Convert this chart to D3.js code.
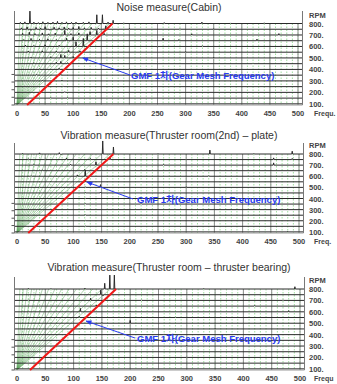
<!DOCTYPE html>
<html>
<head>
<meta charset="utf-8">
<script src="https://cdn.jsdelivr.net/npm/d3@7"></script>
<style>
  body { margin: 0; background: #fff; }
  svg { display: block; }
  text { font-family: "Liberation Sans", Arial, "Noto Sans CJK KR", sans-serif; }
</style>
</head>
<body>
<script>
// ---- data ----
const titles = [
  'Noise measure(Cabin)',
  'Vibration measure(Thruster room(2nd) \u2013 plate)',
  'Vibration measure(Thruster room \u2013 thruster bearing)',
];
const freqLabels = ['Frequ.', 'Freq.', 'Frequ'];
const gmfText = 'GMF 1차(Gear Mesh Frequency)';

const freqTicks = [0, 50, 100, 150, 200, 250, 300, 350, 400, 450, 500];
const rpmTicks = [100, 200, 300, 400, 500, 600, 700, 800];
const traceRpms = [100, 150, 200, 250, 300, 350, 400, 450, 500, 550, 600, 650, 700, 750, 800];
const leftTicks = [90, 157, 223, 290, 356];
// order-line fan: frequency where each line meets the 800 rpm trace
const fanTops = [5, 11, 18, 26, 35, 45, 56, 67, 79, 92, 105, 120, 134, 150, 165];

// GMF (red) line end points [freq, rpm]
const cabinGmf = [[18, 90], [170, 800]];
const plateGmf = [[20, 90], [171, 800]];
const bearingGmf = [[23, 90], [175, 800]];

// peaks on traces: [rpm, freq, amplitude in rpm units]
const cabinPeaks = [
  [800, 6, 10], [800, 14, 14], [800, 23, 108], [800, 30, 12], [800, 38, 8], [800, 46, 15], [800, 55, 10],
  [800, 64, 12], [800, 72, 18], [800, 80, 10], [800, 88, 14], [800, 97, 10], [800, 105, 12], [800, 118, 10],
  [800, 128, 14], [800, 142, 76], [800, 152, 76], [800, 162, 12], [800, 171, 28], [800, 190, 6], [800, 262, 8],
  [800, 329, 12], [800, 380, 5], [800, 440, 6],
  [750, 8, 12], [750, 18, 20], [750, 25, -10], [750, 34, 16], [750, 42, 10], [750, 50, 22], [750, 58, -8],
  [750, 66, 18], [750, 75, 12], [750, 84, 20], [750, 92, 10], [750, 100, 15], [750, 110, 24], [750, 120, 12],
  [750, 132, 16], [750, 145, 10], [750, 158, 30], [750, 200, 6], [750, 290, 5], [750, 350, 5],
  [700, 10, 14], [700, 22, 24], [700, 32, 12], [700, 45, 18], [700, 56, 10], [700, 68, 16], [700, 85, 40],
  [700, 96, 12], [700, 110, 18], [700, 130, 30], [700, 142, 40], [700, 155, 14], [700, 311, 10], [700, 466, 12],
  [650, 12, 10], [650, 25, 20], [650, 40, 12], [650, 55, 16], [650, 70, 10], [650, 88, 22], [650, 100, 30],
  [650, 125, 60], [650, 140, 12], [650, 260, 22], [650, 288, 10], [650, 427, 14],
  [600, 15, 12], [600, 30, 8], [600, 50, 14], [600, 75, 10], [600, 105, 40], [600, 118, 70], [600, 250, -6], [600, 330, 6],
  [550, 20, 10], [550, 45, 12], [550, 70, 8], [550, 92, 16], [550, 112, 12], [550, 300, 5],
  [500, 25, 8], [500, 60, 10], [500, 78, 30], [500, 85, 22], [500, 100, 12], [500, 350, 6],
  [450, 30, 8], [450, 70, 12], [450, 78, 20], [450, 90, 8], [450, 420, 5],
  [400, 40, 6], [400, 75, 10], [400, 200, 5],
  [350, 35, 6], [350, 78, 8], [350, 300, 5],
  [300, 45, 6], [300, 80, 8],
  [250, 50, 5], [250, 82, 6],
  [200, 40, 5], [200, 85, 6],
  [150, 60, 5], [150, 90, 5],
  [100, 30, 5], [100, 88, 5],
];
const platePeaks = [
  [800, 10, 6], [800, 40, 10], [800, 75, 12], [800, 78, -6], [800, 152, 117], [800, 171, 63], [800, 250, 5],
  [800, 342, 35], [800, 420, 5], [800, 488, 25],
  [750, 20, 8], [750, 50, 6], [750, 88, 12], [750, 130, 10], [750, 165, 15], [750, 300, 5], [750, 455, 15], [750, 488, 10],
  [700, 30, 6], [700, 95, 8], [700, 140, 30], [700, 260, 6], [700, 455, 20],
  [650, 45, 8], [650, 120, 10], [650, 150, 6], [650, 330, 5],
  [600, 25, 5], [600, 107, 12], [600, 121, 55], [600, 340, 5],
  [550, 60, 6], [550, 121, 8], [550, 220, 5],
  [500, 40, 5], [500, 121, 6], [500, 148, 25], [500, 300, 6],
  [450, 121, 6], [450, 148, 8], [450, 260, 5],
  [400, 90, 5], [400, 121, 5],
  [350, 121, 5], [350, 220, 5],
  [300, 121, 5], [250, 121, 5],
  [200, 121, 4], [200, 320, 5],
  [150, 121, 4], [100, 480, 6],
];
const bearingPeaks = [
  [800, 20, 6], [800, 60, 5], [800, 120, 8], [800, 155, 50], [800, 164, 122], [800, 172, 122], [800, 330, 5], [800, 491, 20],
  [750, 100, 6], [750, 148, 40], [750, 152, -10], [750, 300, 5], [750, 460, 6],
  [700, 20, 5], [700, 130, 20], [700, 155, 12], [700, 220, 5], [700, 470, 5],
  [650, 140, 10], [650, 420, 6],
  [600, 112, 30], [600, 200, 6], [600, 480, 10],
  [550, 110, 10], [550, 280, 5],
  [500, 150, 6], [500, 200, 25],
  [450, 115, 8], [450, 350, 5],
  [400, 180, 6], [400, 260, 6],
  [350, 120, 5], [300, 300, 6], [250, 210, 5], [200, 300, 5],
];

// ---- layout ----
const W = 337, H = 384;
const panels = [
  {title: titles[0], titleY: 11, top: 11, y800: 23.5, bottom: 105, x500: 298,
   peaks: cabinPeaks, gmf: cabinGmf, freqLabel: freqLabels[0],
   target: [117, 500], tail: [130, 75], labelPos: [131, 78.5]},
  {title: titles[1], titleY: 139, top: 143, y800: 154, bottom: 233, x500: 299,
   peaks: platePeaks, gmf: plateGmf, freqLabel: freqLabels[1],
   target: [124, 548], tail: [133, 199], labelPos: [137, 203]},
  {title: titles[2], titleY: 271, top: 277, y800: 289, bottom: 370, x500: 300,
   peaks: bearingPeaks, gmf: bearingGmf, freqLabel: freqLabels[2],
   target: [122, 519], tail: [135, 338], labelPos: [137, 342]},
];

const svg = d3.select('body').append('svg')
  .attr('width', W)
  .attr('height', H);

svg.append('defs').append('marker')
  .attr('id', 'arrow')
  .attr('viewBox', '0 0 10 10')
  .attr('refX', 9).attr('refY', 5)
  .attr('markerWidth', 6).attr('markerHeight', 6)
  .attr('orient', 'auto-start-reverse')
  .append('path')
    .attr('d', 'M0,1 L10,5 L0,9 z')
    .attr('fill', '#2a3cf0');

function drawPanel(p) {
  const x = d3.scaleLinear().domain([0, 500]).range([17, p.x500]);
  const y = d3.scaleLinear().domain([90, 800]).range([p.bottom, p.y800]);
  const xRight = x(508);
  const g = svg.append('g');

  // title
  g.append('text')
    .attr('x', 169).attr('y', p.titleY)
    .attr('text-anchor', 'middle')
    .style('font-size', '10.5px')
    .attr('fill', '#333')
    .text(p.title);

  // light green grid every 10 Hz
  g.selectAll('.vgrid')
    .data(d3.range(10, 501, 10))
    .enter().append('line')
      .attr('class', 'vgrid')
      .attr('x1', d => x(d)).attr('x2', d => x(d))
      .attr('y1', y(800)).attr('y2', y(90))
      .attr('stroke', '#86d486')
      .attr('stroke-width', 0.8)
      .attr('stroke-dasharray', '1.5,1.5');

  // fan of order lines
  g.selectAll('.fan')
    .data(fanTops)
    .enter().append('line')
      .attr('class', 'fan')
      .attr('x1', x(0)).attr('y1', y(90))
      .attr('x2', d => x(d)).attr('y2', y(800))
      .attr('stroke', '#5aa35a')
      .attr('stroke-opacity', 0.65)
      .attr('stroke-width', 0.7);

  // darker verticals at labelled frequencies
  g.selectAll('.vmajor')
    .data(freqTicks.slice(1))
    .enter().append('line')
      .attr('class', 'vmajor')
      .attr('x1', d => x(d)).attr('x2', d => x(d))
      .attr('y1', y(800)).attr('y2', y(90))
      .attr('stroke', '#909090')
      .attr('stroke-width', 1);

  // traces
  const line = d3.line().x(d => x(d[0])).y(d => d[1]);
  g.selectAll('.trace')
    .data(traceRpms)
    .enter().append('path')
      .attr('class', 'trace')
      .attr('d', rpm => {
        const base = y(rpm);
        const pts = [[-5, base]];
        p.peaks.filter(k => k[0] === rpm)
          .sort((a, b) => a[1] - b[1])
          .forEach(([r, f, a]) => {
            pts.push([f - 0.8, base], [f, y(rpm + a)], [f + 0.8, base]);
          });
        pts.push([508, base]);
        return line(pts);
      })
      .attr('fill', 'none')
      .attr('stroke', '#2a2a2a')
      .attr('stroke-width', 1);

  // axes frame
  g.append('line')
    .attr('x1', 14.5).attr('x2', 14.5)
    .attr('y1', p.top).attr('y2', y(90))
    .attr('stroke', '#777');
  g.append('line')
    .attr('x1', xRight).attr('x2', xRight)
    .attr('y1', p.top).attr('y2', y(90))
    .attr('stroke', '#777');
  g.append('line')
    .attr('x1', 14.5).attr('x2', xRight)
    .attr('y1', y(90)).attr('y2', y(90))
    .attr('stroke', '#999');

  g.selectAll('.lt')
    .data(leftTicks)
    .enter().append('line')
      .attr('x1', 11.5).attr('x2', 14.5)
      .attr('y1', d => y(d)).attr('y2', d => y(d))
      .attr('stroke', '#555');

  // red GMF line
  g.append('line')
    .attr('x1', x(p.gmf[0][0])).attr('y1', y(p.gmf[0][1]))
    .attr('x2', x(p.gmf[1][0])).attr('y2', y(p.gmf[1][1]))
    .attr('stroke', '#f01818')
    .attr('stroke-width', 2);

  // right RPM labels
  g.append('text')
    .attr('x', 309).attr('y', y(800) - 6)
    .style('font-size', '7.5px').style('font-weight', 'bold')
    .attr('fill', '#444')
    .text('RPM');
  g.selectAll('.rl')
    .data(rpmTicks)
    .enter().append('text')
      .attr('x', 309).attr('y', d => y(d) + 3)
      .style('font-size', '7.5px').style('font-weight', 'bold')
      .attr('fill', '#444')
      .text(d => d + '.');

  // bottom frequency labels
  g.selectAll('.fl')
    .data(freqTicks)
    .enter().append('text')
      .attr('x', d => x(d)).attr('y', y(90) + 11)
      .attr('text-anchor', 'middle')
      .style('font-size', '7.5px').style('font-weight', 'bold')
      .attr('fill', '#444')
      .text(d => d);
  g.append('text')
    .attr('x', 314).attr('y', y(90) + 11)
    .style('font-size', '7px').style('font-weight', 'bold')
    .attr('fill', '#444')
    .text(p.freqLabel);

  // GMF annotation
  g.append('line')
    .attr('x1', p.tail[0]).attr('y1', p.tail[1])
    .attr('x2', x(p.target[0])).attr('y2', y(p.target[1]))
    .attr('stroke', '#2a3cf0')
    .attr('stroke-width', 1)
    .attr('marker-end', 'url(#arrow)');
  g.append('text')
    .attr('x', p.labelPos[0]).attr('y', p.labelPos[1])
    .style('font-size', '9.5px').style('font-weight', 'bold')
    .attr('fill', '#2a3cf0')
    .text(gmfText);
}

panels.forEach(drawPanel);
</script>
</body>
</html>
